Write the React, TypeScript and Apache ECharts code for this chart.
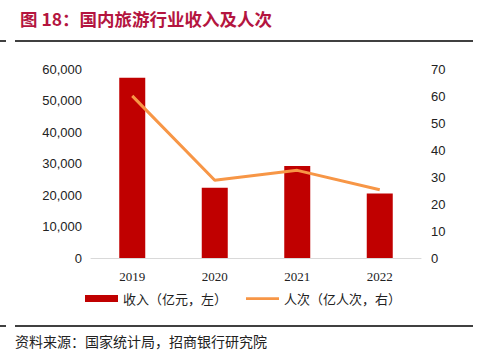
import React, { useEffect, useRef } from "react";
import * as echarts from "echarts";

const years = ["2019", "2020", "2021", "2022"];
const revenue = [57251, 22286, 29191, 20444];
const trips = [60.06, 28.79, 32.46, 25.3];
const revenueName = "收入（亿元，左）";
const tripsName = "人次（亿人次，右）";
const titleText = "图 18：国内旅游行业收入及人次";
const sourceText = "资料来源：国家统计局，招商银行研究院";

export default function App() {
  const ref = useRef<HTMLDivElement>(null);
  useEffect(() => {
    const chart = echarts.init(ref.current!, null, { renderer: "svg" });
    chart.setOption({
      animation: false,
      backgroundColor: "#ffffff",
      grid: { left: 91, right: 63, top: 69, bottom: 104, containLabel: false },
      legend: {
        left: 85,
        top: 292,
        padding: 0,
        itemWidth: 33,
        itemHeight: 7,
        itemGap: 19,
        textStyle: { fontFamily: "Noto Sans CJK SC", fontSize: 13, color: "#222" },
        data: [
          { name: revenueName, icon: "rect" },
          { name: tripsName, icon: "path://M0,0L36,0L36,3L0,3Z" },
        ],
      },
      xAxis: {
        type: "category",
        data: years,
        axisLine: { lineStyle: { color: "#d9d9d9", width: 1 } },
        axisTick: { show: false },
        axisLabel: {
          fontFamily: "Liberation Serif",
          fontSize: 13,
          color: "#222",
          margin: 12,
        },
      },
      yAxis: [
        {
          type: "value",
          min: 0,
          max: 60000,
          interval: 10000,
          splitLine: { show: false },
          axisLine: { show: false },
          axisTick: { show: false },
          axisLabel: {
            fontFamily: "Liberation Sans",
            fontSize: 13,
            color: "#222",
            margin: 9,
            formatter: (v: number) => v.toLocaleString("en-US"),
          },
        },
        {
          type: "value",
          min: 0,
          max: 70,
          interval: 10,
          splitLine: { show: false },
          axisLine: { show: false },
          axisTick: { show: false },
          axisLabel: {
            fontFamily: "Liberation Sans",
            fontSize: 13,
            color: "#222",
            margin: 10,
          },
        },
      ],
      series: [
        {
          name: revenueName,
          type: "bar",
          data: revenue,
          barWidth: 26,
          itemStyle: { color: "#C00000" },
          yAxisIndex: 0,
        },
        {
          name: tripsName,
          type: "line",
          data: trips,
          yAxisIndex: 1,
          symbol: "none",
          lineStyle: { color: "#F79646", width: 3 },
          itemStyle: { color: "#F79646" },
        },
      ],
      graphic: [
        {
          type: "text",
          left: 20,
          top: 10,
          style: {
            text: titleText,
            fontFamily: "Noto Sans CJK SC",
            fontSize: 17.5,
            fontWeight: "bold",
            fill: "#B4153F",
          },
        },
        { type: "line", shape: { x1: 0, y1: 41, x2: 6, y2: 41 }, style: { stroke: "#000", lineWidth: 1.5 } },
        { type: "line", shape: { x1: 15, y1: 41, x2: 473, y2: 41 }, style: { stroke: "#000", lineWidth: 1.5 } },
        { type: "line", shape: { x1: 0, y1: 326, x2: 6, y2: 326 }, style: { stroke: "#000", lineWidth: 1.5 } },
        { type: "line", shape: { x1: 15, y1: 326, x2: 473, y2: 326 }, style: { stroke: "#000", lineWidth: 1.5 } },
        {
          type: "text",
          left: 15,
          top: 334,
          style: {
            text: sourceText,
            fontFamily: "Noto Sans CJK SC",
            fontSize: 14,
            fill: "#222",
          },
        },
      ],
    });
    return () => chart.dispose();
  }, []);
  return (
    <div
      ref={ref}
      style={{ position: "fixed", left: 0, top: 0, width: 484, height: 362 }}
    />
  );
}
